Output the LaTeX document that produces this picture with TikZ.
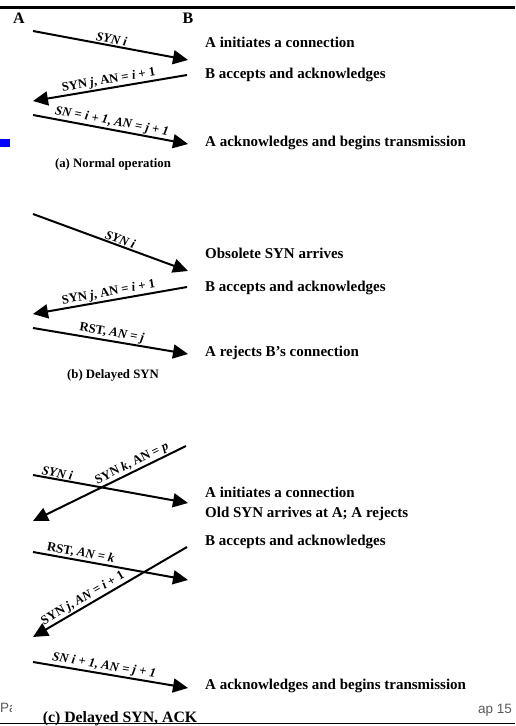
\documentclass[tikz,border=0pt]{standalone}
\usepackage{fontspec}
\setmainfont{Liberation Serif}
\newfontfamily\slidefont{Liberation Sans}
\usetikzlibrary{arrows.meta}
\begin{document}
\begin{tikzpicture}[x=1pt,y=-1pt,
  msg/.style={line width=2pt,-{Triangle[length=15pt,width=14pt]}},
  lbl/.style={font=\fontsize{12.8}{14}\selectfont\bfseries,sloped,inner sep=1pt},
  note/.style={font=\fontsize{15}{17}\selectfont\bfseries,anchor=west,inner sep=0pt},
  captxt/.style={font=\fontsize{12.8}{14}\selectfont\bfseries,inner sep=0pt},
  side/.style={font=\fontsize{13.5}{15}\selectfont\slidefont,text=black!65,inner sep=0pt}]
\useasboundingbox (0,0) rectangle (515,726);
\fill[white] (0,0) rectangle (515,726);

% frame rules
\draw[line width=3pt] (0,7.5) -- (515,7.5);
\draw[line width=1.6pt] (0,723.5) -- (515,723.5);
\fill[blue] (0,139) rectangle (10,147);

% station names
\node[font=\fontsize{16}{18}\selectfont\bfseries,inner sep=0pt] (A) at (19,18) {A};
\node[font=\fontsize{16}{18}\selectfont\bfseries,inner sep=0pt] (B) at (188,18) {B};

% (a) normal operation
\coordinate (a1s) at (33,31);  \coordinate (a1e) at (188,60);
\coordinate (a2s) at (187,75); \coordinate (a2e) at (33,101);
\coordinate (a3s) at (33,115); \coordinate (a3e) at (188,144);
\draw[msg] (a1s) -- node[lbl,above,pos=0.5] {\textit{SYN i}} (a1e);
\draw[msg] (a2s) -- node[lbl,above,pos=0.5] {SYN \textit{j}, AN = \textit{i} + 1} (a2e);
\draw[msg] (a3s) -- node[lbl,above,pos=0.5] {\textit{SN = i + 1, AN = j + 1}} (a3e);
\node[note] (na1) at (205,42) {A initiates a connection};
\node[note] (na2) at (205,75) {B accepts and acknowledges};
\node[note] (na3) at (205,143) {A acknowledges and begins transmission};
\node[captxt] (capa) at (113,164) {(a) Normal operation};

% (b) delayed SYN
\coordinate (b1s) at (33,214);  \coordinate (b1e) at (188,271);
\coordinate (b2s) at (187,287); \coordinate (b2e) at (33,314);
\coordinate (b3s) at (33,328);  \coordinate (b3e) at (188,354);
\draw[msg] (b1s) -- node[lbl,above,pos=0.55] {\textit{SYN i}} (b1e);
\draw[msg] (b2s) -- node[lbl,above,pos=0.5] {SYN \textit{j}, AN = \textit{i} + 1} (b2e);
\draw[msg] (b3s) -- node[lbl,above,pos=0.5] {RST, \textit{AN = j}} (b3e);
\node[note] (nb1) at (205,253) {Obsolete SYN arrives};
\node[note] (nb2) at (205,288) {B accepts and acknowledges};
\node[note] (nb3) at (205,353) {A rejects B's connection};
\node[captxt] (capb) at (113,375) {(b) Delayed SYN};

% (c) delayed SYN and ACK
\coordinate (c1s) at (33,475);  \coordinate (c1e) at (188,503);
\coordinate (c2s) at (186,446); \coordinate (c2e) at (33,521);
\coordinate (c3s) at (33,552);  \coordinate (c3e) at (188,580);
\coordinate (c4s) at (187,547); \coordinate (c4e) at (33,637);
\coordinate (c5s) at (33,662);  \coordinate (c5e) at (188,688);
\draw[msg] (c1s) -- node[lbl,above,pos=0.15] {\textit{SYN i}} (c1e);
\draw[msg] (c2s) -- node[lbl,above,pos=0.33] {SYN \textit{k}, AN = \textit{p}} (c2e);
\draw[msg] (c3s) -- node[lbl,above,pos=0.3] {RST, \textit{AN = k}} (c3e);
\draw[msg] (c4s) -- node[lbl,above,pos=0.65] {SYN \textit{j}, \textit{AN = i} + 1} (c4e);
\draw[msg] (c5s) -- node[lbl,above,pos=0.45] {\textit{SN i + 1, AN = j + 1}} (c5e);
\node[note] (nc1) at (205,492) {A initiates a connection};
\node[note] (nc2) at (205,514) {Old SYN arrives at A; A rejects};
\node[note] (nc3) at (205,542) {B accepts and acknowledges};
\node[note] (nc4) at (205,686) {A acknowledges and begins transmission};
\node[captxt,font=\fontsize{15.8}{17}\selectfont\bfseries] (capc) at (120,719) {(c) Delayed SYN, ACK};

% slide footer fragments
\begin{scope}
  \clip (0,695) rectangle (11,722);
  \node[side,anchor=west] (foot) at (0,708) {Pa};
\end{scope}
\node[side,anchor=east] (page) at (512,710) {ap 15};
\end{tikzpicture}
\end{document}
